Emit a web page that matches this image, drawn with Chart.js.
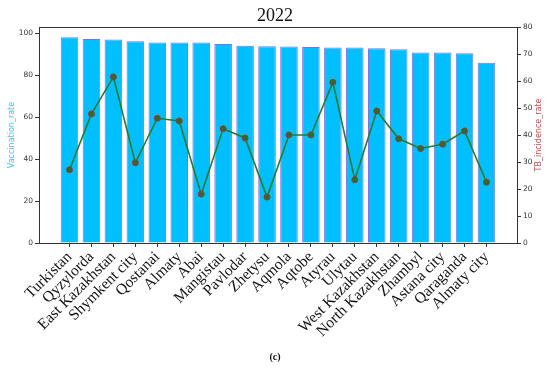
<!DOCTYPE html>
<html>
<head>
<meta charset="utf-8">
<script src="https://cdn.jsdelivr.net/npm/chart.js@4"></script>
<style>
  html, body { margin: 0; padding: 0; background: #fff; }
  #wrap { width: 550px; height: 368px; position: relative; }
</style>
</head>
<body>
<div id="wrap"><canvas id="c" width="550" height="368"></canvas></div>
<script>
const regions = ['Turkistan','Qyzylorda','East Kazakhstan','Shymkent city','Qostanai','Almaty','Abai','Mangistau','Pavlodar','Zhetysu','Aqmola','Aqtobe','Atyrau','Ulytau','West Kazakhstan','North Kazakhstan','Zhambyl','Astana city','Qaraganda','Almaty city'];
const vaccinationRate = [98.1,97.3,97.0,96.2,95.6,95.6,95.6,94.9,94.1,93.8,93.7,93.5,93.2,93.2,92.9,92.4,90.8,90.8,90.5,86.0];
const tbIncidenceRate = [27.1,47.8,61.5,29.7,46.2,45.2,18.1,42.3,38.9,17.0,40.0,40.0,59.5,23.4,48.9,38.6,35.0,36.6,41.5,22.5];
const leftTicks = [0,20,40,60,80,100];
const rightTicks = [0,10,20,30,40,50,60,70,80];

const axisColor = '#333';

const framePlugin = {
  id: 'frame',
  afterDraw(chart) {
    const {ctx, chartArea: a} = chart;
    ctx.save();
    ctx.strokeStyle = axisColor;
    ctx.lineWidth = 1;
    ctx.beginPath();
    ctx.moveTo(a.left, a.top + 0.5);
    ctx.lineTo(a.right, a.top + 0.5);
    ctx.stroke();
    // right axis title, reading bottom to top
    ctx.fillStyle = '#c0504d';
    ctx.font = '8px "DejaVu Sans"';
    ctx.textAlign = 'center';
    ctx.textBaseline = 'middle';
    ctx.translate(539, (a.top + a.bottom) / 2);
    ctx.rotate(-Math.PI / 2);
    ctx.fillText('TB_incidence_rate', 0, 0);
    ctx.restore();
  }
};

new Chart(document.getElementById('c'), {
  type: 'bar',
  data: {
    datasets: [
      {
        type: 'line',
        label: 'TB_incidence_rate',
        data: tbIncidenceRate.map((v, i) => ({x: i, y: v})),
        yAxisID: 'y1',
        xAxisID: 'x',
        borderColor: '#267a34',
        borderWidth: 1.6,
        pointBackgroundColor: '#2e6b2e',
        pointBorderColor: '#9b3a30',
        pointBorderWidth: 1,
        pointRadius: 3,
        tension: 0,
        order: 0
      },
      {
        type: 'bar',
        label: 'Vaccination_rate',
        data: vaccinationRate.map((v, i) => ({x: i, y: v})),
        yAxisID: 'y',
        xAxisID: 'x',
        backgroundColor: '#00bfff',
        borderColor: 'rgba(110,100,220,0.9)',
        borderWidth: 1,
        barPercentage: 0.8,
        categoryPercentage: 1.0,
        order: 1
      }
    ]
  },
  plugins: [framePlugin],
  options: {
    responsive: false,
    animation: false,
    devicePixelRatio: 1,
    layout: { padding: 0 },
    plugins: {
      legend: { display: false },
      tooltip: { enabled: false },
      title: {
        display: true,
        text: '2022',
        color: '#111',
        font: { family: '"Liberation Serif", serif', size: 18, weight: 'normal', lineHeight: 1.2 },
        padding: { top: 5, bottom: 0.4 }
      },
      subtitle: {
        display: true,
        position: 'bottom',
        text: '(c)',
        color: '#111',
        font: { family: '"Liberation Serif", serif', size: 10, weight: 'bold', lineHeight: 1.2 },
        padding: { top: 0, bottom: 5 }
      }
    },
    scales: {
      x: {
        type: 'linear',
        position: 'bottom',
        min: -1.39,
        max: 20.39,
        offset: false,
        afterBuildTicks(scale) { scale.ticks = regions.map((_, i) => ({ value: i })); },
        afterFit(scale) { scale.height = 108; },
        ticks: {
          autoSkip: false,
          minRotation: 45,
          maxRotation: 45,
          padding: 1,
          color: '#111',
          font: { family: '"Liberation Serif", serif', size: 15.5 },
          callback: (v) => regions[v] ?? ''
        },
        grid: { display: true, offset: false, drawOnChartArea: false, drawTicks: true, tickLength: 4, color: axisColor },
        border: { display: true, color: axisColor, width: 1 }
      },
      y: {
        type: 'linear',
        position: 'left',
        min: 0,
        max: 103,
        afterBuildTicks(scale) { scale.ticks = leftTicks.map(v => ({ value: v })); },
        afterFit(scale) { scale.width = 39; },
        ticks: {
          color: axisColor,
          padding: 2,
          font: { family: '"DejaVu Sans"', size: 7.5 }
        },
        title: {
          display: true,
          text: 'Vaccination_rate',
          color: '#4cc0e6',
          font: { family: '"DejaVu Sans"', size: 8 },
          padding: { top: 7, bottom: 0 }
        },
        grid: { display: true, drawOnChartArea: false, drawTicks: true, tickLength: 4, color: axisColor },
        border: { display: true, color: axisColor, width: 1 }
      },
      y1: {
        type: 'linear',
        position: 'right',
        min: 0,
        max: 80,
        afterBuildTicks(scale) { scale.ticks = rightTicks.map(v => ({ value: v })); },
        afterFit(scale) { scale.width = 33; },
        ticks: {
          color: axisColor,
          padding: 2,
          font: { family: '"DejaVu Sans"', size: 7.5 }
        },
        grid: { display: true, drawOnChartArea: false, drawTicks: true, tickLength: 4, color: axisColor },
        border: { display: true, color: axisColor, width: 1 }
      }
    }
  }
});
</script>
</body>
</html>
